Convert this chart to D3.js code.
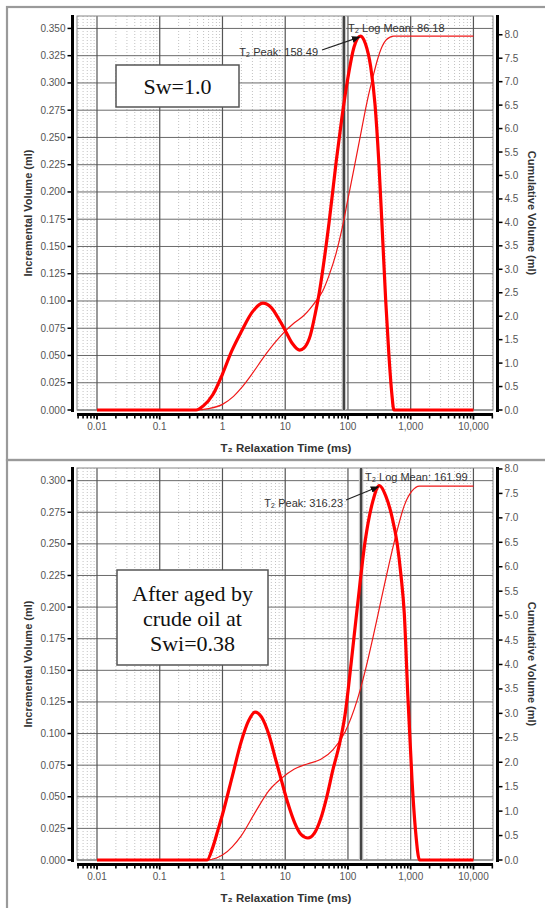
<!DOCTYPE html>
<html>
<head>
<meta charset="utf-8">
<script src="https://cdn.jsdelivr.net/npm/d3@7"></script>
<style>
  body { margin: 0; background: #fff; }
  svg { display: block; }
</style>
</head>
<body>
<svg id="chart" width="545" height="908"></svg>
<script>
// ---- data ----
var t2Ticks = [0.01, 0.1, 1, 10, 100, 1000, 10000];
var t2Labels = ["0.01", "0.1", "1", "10", "100", "1,000", "10,000"];

var incTicksTop = [0, 0.025, 0.05, 0.075, 0.1, 0.125, 0.15, 0.175, 0.2, 0.225, 0.25, 0.275, 0.3, 0.325, 0.35];
var incTicksBottom = [0, 0.025, 0.05, 0.075, 0.1, 0.125, 0.15, 0.175, 0.2, 0.225, 0.25, 0.275, 0.3];
var cumTicks = [0, 0.5, 1, 1.5, 2, 2.5, 3, 3.5, 4, 4.5, 5, 5.5, 6, 6.5, 7, 7.5, 8];

// Sw = 1.0  [T2 (ms), value]
var swIncremental = [
  [0.01, 0], [0.3, 0], [0.38, 0], [0.5, 0.004], [0.7, 0.014], [1, 0.033], [1.4, 0.054],
  [2, 0.072], [3, 0.09], [4.4, 0.098], [6, 0.094], [8, 0.083], [10, 0.073], [13, 0.061],
  [17, 0.055], [20, 0.057], [25, 0.068], [30, 0.088], [35, 0.108], [40, 0.13], [50, 0.172],
  [65, 0.228], [80, 0.268], [100, 0.305], [125, 0.333], [158.49, 0.343], [190, 0.336],
  [230, 0.315], [270, 0.28], [310, 0.228], [350, 0.168], [400, 0.1], [450, 0.05],
  [500, 0.015], [540, 0], [10000, 0]
];
var swCumulative = [
  [0.01, 0], [0.38, 0], [0.6, 0.03], [1, 0.12], [1.5, 0.29], [2, 0.47], [3, 0.78],
  [4.4, 1.1], [7, 1.45], [10, 1.68], [14, 1.86], [20, 2.02], [30, 2.3], [40, 2.55],
  [50, 2.87], [65, 3.35], [80, 3.85], [100, 4.5], [125, 5.15], [158, 5.85], [200, 6.55],
  [250, 7.1], [300, 7.5], [350, 7.75], [400, 7.88], [470, 7.95], [540, 7.97], [10000, 7.97]
];

// aged by crude oil, Swi = 0.38
var agedIncremental = [
  [0.01, 0], [0.5, 0], [0.57, 0], [0.7, 0.01], [0.85, 0.024], [1, 0.036], [1.43, 0.066],
  [2, 0.094], [2.6, 0.11], [3.3, 0.117], [4.2, 0.113], [5.5, 0.099], [7, 0.08],
  [8.7, 0.063], [11, 0.045], [14, 0.03], [18, 0.02], [23, 0.0174], [29, 0.021],
  [37, 0.033], [46, 0.05], [58, 0.072], [72, 0.09], [90, 0.115], [112, 0.155],
  [141, 0.2], [189, 0.253], [250, 0.284], [316.23, 0.296], [400, 0.288], [500, 0.272],
  [610, 0.25], [700, 0.225], [790, 0.195], [900, 0.13], [1050, 0.063], [1200, 0.022],
  [1380, 0], [10000, 0]
];
var agedCumulative = [
  [0.01, 0], [0.57, 0], [0.8, 0.04], [1, 0.1], [1.43, 0.27], [2, 0.5], [3.3, 0.97],
  [5.5, 1.42], [8.7, 1.67], [14, 1.86], [23, 1.97], [37, 2.06], [58, 2.26], [90, 2.62],
  [141, 3.28], [189, 3.88], [250, 4.55], [316, 5.15], [400, 5.75], [500, 6.3],
  [610, 6.75], [790, 7.25], [1050, 7.55], [1380, 7.65], [10000, 7.65]
];

var panels = [
  { label: ["Sw=1.0"], inc: swIncremental, cum: swCumulative,
    incTicks: incTicksTop, incMax: 0.3614, cumMax: 8.40,
    logMean: 86.18, peak: 158.49, peakVal: 0.343,
    top: 16, zero: 410, frameTop: 7, frameBottom: 460,
    box: [116, 65, 123, 42], peakText: [318, 56], arrowFrom: [322, 50], meanText: [348, 32] },
  { label: ["After aged by", "crude oil at", "Swi=0.38"], inc: agedIncremental, cum: agedCumulative,
    incTicks: incTicksBottom, incMax: 0.310, cumMax: 8.02,
    logMean: 161.99, peak: 316.23, peakVal: 0.296,
    top: 468, zero: 860, frameTop: 460, frameBottom: 912,
    box: [117, 570, 151, 95], peakText: [343, 507], arrowFrom: [346, 500], meanText: [365, 481] }
];

var svg = d3.select('#chart');
var font = "'Liberation Sans', Arial, sans-serif";

svg.append('defs').append('marker')
  .attr('id', 'arrow')
  .attr('viewBox', '0 0 10 10')
  .attr('refX', 9).attr('refY', 5)
  .attr('markerWidth', 7).attr('markerHeight', 7)
  .attr('orient', 'auto')
  .append('path').attr('d', 'M0,1 L10,5 L0,9 z').attr('fill', '#111');

var plotLeft = 77, plotRight = 493;
var x = d3.scaleLog().domain([0.0048, 20500]).range([plotLeft, plotRight]);

// minor decade lines 2..9
var minorTicks = [];
[0.001, 0.01, 0.1, 1, 10, 100, 1000, 10000].forEach(function (d) {
  for (var m = 2; m <= 9; m++) {
    var v = d * m;
    if (v > x.domain()[0] && v < x.domain()[1]) minorTicks.push(v);
  }
});

function drawPanel(p) {
  var g = svg.append('g');
  var yInc = d3.scaleLinear().domain([0, p.incMax]).range([p.zero, p.top]);
  var yCum = d3.scaleLinear().domain([0, p.cumMax]).range([p.zero, p.top]);

  // frame
  g.append('rect')
    .attr('x', 7).attr('y', p.frameTop)
    .attr('width', 560).attr('height', p.frameBottom - p.frameTop)
    .attr('fill', 'none').attr('stroke', '#9a9a9a').attr('stroke-width', 2.2);

  // minor vertical grid
  g.append('g').selectAll('line').data(minorTicks).enter().append('line')
    .attr('x1', function (d) { return x(d) }).attr('x2', function (d) { return x(d) })
    .attr('y1', p.top).attr('y2', p.zero)
    .attr('stroke', '#c2c2c2').attr('stroke-width', 1).attr('stroke-dasharray', '1,2');

  // horizontal grid
  g.append('g').selectAll('line').data(p.incTicks).enter().append('line')
    .attr('x1', plotLeft).attr('x2', plotRight)
    .attr('y1', function (d) { return yInc(d) }).attr('y2', function (d) { return yInc(d) })
    .attr('stroke', '#6a6a6a').attr('stroke-width', 1);

  // major vertical grid
  g.append('g').selectAll('line').data(t2Ticks).enter().append('line')
    .attr('x1', function (d) { return x(d) }).attr('x2', function (d) { return x(d) })
    .attr('y1', p.top).attr('y2', p.zero)
    .attr('stroke', '#555').attr('stroke-width', 1.2);

  g.append('rect')
    .attr('x', plotLeft).attr('y', p.top)
    .attr('width', plotRight - plotLeft).attr('height', p.zero - p.top)
    .attr('fill', 'none').attr('stroke', '#888').attr('stroke-width', 1);

  // log mean line
  g.append('line')
    .attr('x1', x(p.logMean)).attr('x2', x(p.logMean))
    .attr('y1', p.top).attr('y2', p.zero)
    .attr('stroke', '#c8c8c8').attr('stroke-width', 4.5);
  g.append('line')
    .attr('x1', x(p.logMean)).attr('x2', x(p.logMean))
    .attr('y1', p.top).attr('y2', p.zero)
    .attr('stroke', '#444').attr('stroke-width', 2.2);

  // curves
  var cumLine = d3.line()
    .x(function (d) { return x(d[0]) })
    .y(function (d) { return yCum(d[1]) })
    .curve(d3.curveMonotoneX);
  var incLine = d3.line()
    .x(function (d) { return x(d[0]) })
    .y(function (d) { return yInc(d[1]) })
    .curve(d3.curveMonotoneX);

  g.append('path').datum(p.cum)
    .attr('d', cumLine).attr('fill', 'none')
    .attr('stroke', '#f01818').attr('stroke-width', 1.2);
  g.append('path').datum(p.inc)
    .attr('d', incLine).attr('fill', 'none')
    .attr('stroke', '#f00').attr('stroke-width', 3.2)
    .attr('stroke-linejoin', 'round');

  // annotations
  g.append('text')
    .attr('x', p.meanText[0]).attr('y', p.meanText[1])
    .attr('font-family', font).attr('font-size', 11).attr('fill', '#333')
    .text('T\u2082 Log Mean: ' + p.logMean.toFixed(2));
  g.append('text')
    .attr('x', p.peakText[0]).attr('y', p.peakText[1])
    .attr('text-anchor', 'end')
    .attr('font-family', font).attr('font-size', 11).attr('fill', '#333')
    .text('T\u2082 Peak: ' + p.peak.toFixed(2));
  g.append('line')
    .attr('x1', p.arrowFrom[0]).attr('y1', p.arrowFrom[1])
    .attr('x2', x(p.peak) - 1).attr('y2', yInc(p.peakVal) + 1)
    .attr('stroke', '#222').attr('stroke-width', 1.2)
    .attr('marker-end', 'url(#arrow)');

  // label box
  var b = p.box;
  g.append('rect')
    .attr('x', b[0]).attr('y', b[1]).attr('width', b[2]).attr('height', b[3])
    .attr('fill', '#fff').attr('stroke', '#555').attr('stroke-width', 1.5);
  var lines = p.label;
  var lineH = 25;
  var firstY = b[1] + b[3] / 2 - (lines.length - 1) * lineH / 2 + 8;
  g.append('g').selectAll('text').data(lines).enter().append('text')
    .attr('x', b[0] + b[2] / 2)
    .attr('y', function (d, i) { return firstY + i * lineH })
    .attr('text-anchor', 'middle')
    .attr('font-family', "'Liberation Serif', 'Times New Roman', serif")
    .attr('font-size', 22).attr('fill', '#111')
    .text(function (d) { return d });

  // left axis
  var leftX = 72.5;
  g.append('line')
    .attr('x1', leftX).attr('x2', leftX).attr('y1', p.top - 1).attr('y2', p.zero + 2)
    .attr('stroke', '#000').attr('stroke-width', 3);
  var lt = g.append('g').selectAll('g').data(p.incTicks).enter().append('g');
  lt.append('line')
    .attr('x1', leftX - 5).attr('x2', leftX)
    .attr('y1', function (d) { return yInc(d) }).attr('y2', function (d) { return yInc(d) })
    .attr('stroke', '#000').attr('stroke-width', 1.5);
  lt.append('text')
    .attr('x', leftX - 7).attr('y', function (d) { return yInc(d) + 3.5 })
    .attr('text-anchor', 'end')
    .attr('font-family', font).attr('font-size', 10).attr('fill', '#555')
    .text(function (d) { return d3.format('.3f')(d) });

  // right axis
  var rightX = 497.5;
  g.append('line')
    .attr('x1', rightX).attr('x2', rightX).attr('y1', p.top - 1).attr('y2', p.zero + 2)
    .attr('stroke', '#000').attr('stroke-width', 3);
  var rt = g.append('g').selectAll('g').data(cumTicks).enter().append('g');
  rt.append('line')
    .attr('x1', rightX).attr('x2', rightX + 5)
    .attr('y1', function (d) { return yCum(d) }).attr('y2', function (d) { return yCum(d) })
    .attr('stroke', '#000').attr('stroke-width', 1.5);
  rt.append('text')
    .attr('x', rightX + 7).attr('y', function (d) { return yCum(d) + 3.5 })
    .attr('font-family', font).attr('font-size', 10).attr('fill', '#555')
    .text(function (d) { return d3.format('.1f')(d) });

  // bottom axis
  var axisY = p.zero + 4.5;
  g.append('line')
    .attr('x1', plotLeft).attr('x2', plotRight).attr('y1', axisY).attr('y2', axisY)
    .attr('stroke', '#000').attr('stroke-width', 3);
  g.append('g').selectAll('line').data(minorTicks).enter().append('line')
    .attr('x1', function (d) { return x(d) }).attr('x2', function (d) { return x(d) })
    .attr('y1', axisY).attr('y2', axisY + 4)
    .attr('stroke', '#000').attr('stroke-width', 1.6);
  g.append('g').selectAll('line').data(t2Ticks).enter().append('line')
    .attr('x1', function (d) { return x(d) }).attr('x2', function (d) { return x(d) })
    .attr('y1', axisY).attr('y2', axisY + 5)
    .attr('stroke', '#000').attr('stroke-width', 1.8);
  g.append('g').selectAll('text').data(t2Ticks).enter().append('text')
    .attr('x', function (d) { return x(d) }).attr('y', axisY + 15)
    .attr('text-anchor', 'middle')
    .attr('font-family', font).attr('font-size', 10).attr('fill', '#555')
    .text(function (d, i) { return t2Labels[i] });

  // axis titles
  g.append('text')
    .attr('x', (plotLeft + plotRight) / 2 + 1).attr('y', axisY + 37)
    .attr('text-anchor', 'middle')
    .attr('font-family', font).attr('font-size', 11.5).attr('font-weight', 'bold').attr('fill', '#333')
    .text('T\u2082 Relaxation Time (ms)');
  var midY = (p.top + p.zero) / 2;
  g.append('text')
    .attr('transform', 'translate(32,' + midY + ') rotate(-90)')
    .attr('text-anchor', 'middle')
    .attr('font-family', font).attr('font-size', 11).attr('font-weight', 'bold').attr('fill', '#333')
    .text('Incremental Volume (ml)');
  g.append('text')
    .attr('transform', 'translate(528,' + midY + ') rotate(90)')
    .attr('text-anchor', 'middle')
    .attr('font-family', font).attr('font-size', 11).attr('font-weight', 'bold').attr('fill', '#333')
    .text('Cumulative Volume (ml)');
}

panels.forEach(drawPanel);
</script>
</body>
</html>
